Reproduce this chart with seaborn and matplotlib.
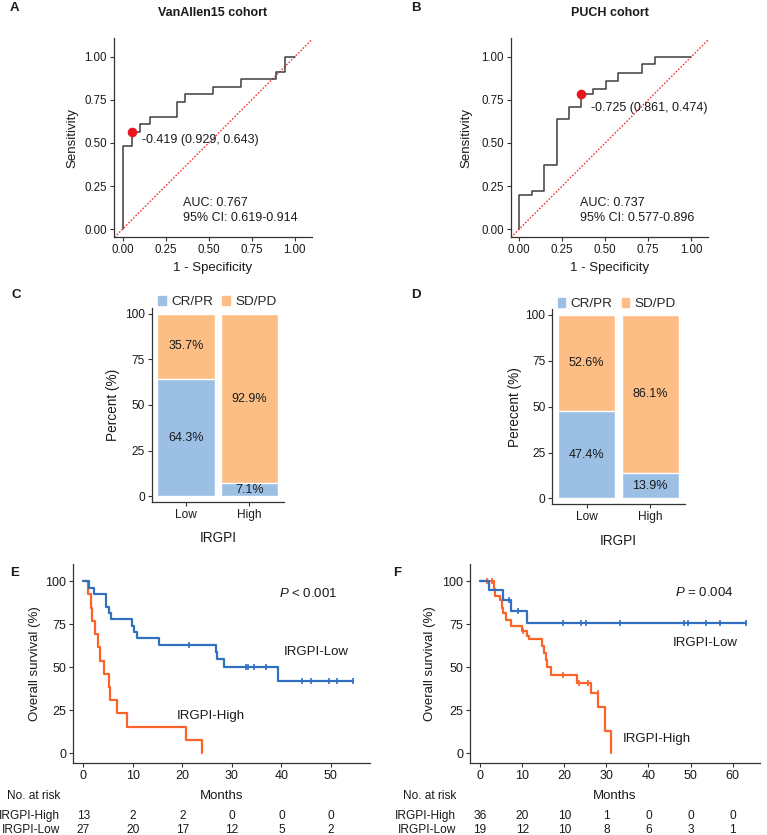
import numpy as np
import matplotlib
matplotlib.use("Agg")
import matplotlib.pyplot as plt
import seaborn as sns
from matplotlib.patches import Patch

# ---- ROC data ----
roc_a_fpr = [0, 0, 0.052, 0.10, 0.157, 0.314, 0.362, 0.527, 0.686, 0.895, 0.944, 1.0]
roc_a_tpr = [0, 0.484, 0.565, 0.61, 0.652, 0.739, 0.783, 0.826, 0.870, 0.913, 1.0, 1.0]
roc_a_cut = (0.052, 0.565)
roc_b_fpr = [0, 0, 0.074, 0.145, 0.217, 0.291, 0.36, 0.43, 0.504, 0.576, 0.717, 0.79, 1.0]
roc_b_tpr = [0, 0.2, 0.221, 0.372, 0.64, 0.711, 0.783, 0.812, 0.86, 0.909, 0.957, 1.0, 1.0]
roc_b_cut = (0.36, 0.783)

# ---- response bars ----
groups = ["Low", "High"]
c_crpr = [64.3, 7.1]
c_sdpd = [35.7, 92.9]
d_crpr = [47.4, 13.9]
d_sdpd = [52.6, 86.1]

# ---- Kaplan-Meier steps ----
e_low_t = [0, 1.2, 2.2, 4.7, 5.2, 5.7, 9.9, 10.3, 10.8, 15.4, 26.8, 27.1, 28.4, 39.4, 54.4]
e_low_s = [100, 96.3, 92.6, 85.2, 81.5, 77.8, 74.1, 70.4, 66.7, 63.0, 59.1, 54.8, 50.4, 42.2, 42.2]
e_low_cens = [21.3, 32.9, 33.3, 34.5, 36.9, 44.1, 45.9, 49.6, 51.3, 54.4]
e_high_t = [0, 1.0, 1.5, 1.7, 2.4, 2.9, 3.3, 4.2, 5.2, 5.4, 6.9, 8.9, 20.7, 24.0]
e_high_s = [100, 92.3, 84.6, 76.9, 69.2, 61.5, 53.8, 46.2, 38.5, 30.8, 23.1, 15.4, 7.7, 0]
e_high_cens = []

f_low_t = [0, 2.2, 5.4, 7.4, 11.2, 63.1]
f_low_s = [100, 94.7, 89.1, 82.4, 75.6, 75.6]
f_low_cens = [6.9, 8.9, 19.8, 24.0, 25.2, 33.3, 48.5, 49.5, 53.7, 57.0, 63.1]
f_high_t = [0, 3.2, 3.6, 4.8, 5.1, 5.5, 6.2, 7.4, 9.9, 11.1, 11.6, 14.6, 15.3, 15.6,
            15.8, 16.9, 23.0, 26.4, 28.1, 29.7, 31.1]
f_high_s = [100, 95.7, 91.5, 89.1, 84.7, 81.4, 77.5, 74.2, 71.1, 68.2, 66.5, 62.4, 58.1,
            54.3, 50.0, 45.5, 41.1, 35.3, 26.6, 13.2, 0]
f_high_cens = [1.7, 2.8, 10.3, 19.8, 23.5, 25.7, 27.9]

e_risk_times = [0, 10, 20, 30, 40, 50]
e_risk_high = [13, 2, 2, 0, 0, 0]
e_risk_low = [27, 20, 17, 12, 5, 2]
f_risk_times = [0, 10, 20, 30, 40, 50, 60]
f_risk_high = [36, 20, 10, 1, 0, 0, 0]
f_risk_low = [19, 12, 10, 8, 6, 3, 1]

BLUE_BAR, ORANGE_BAR = "#9BC0E4", "#FDBE85"
KM_BLUE, KM_ORANGE = "#3170C0", "#FA6428"
TXT = "#1a1a1a"

sns.set_style("ticks")
plt.rcParams["font.family"] = ["Liberation Sans", "DejaVu Sans"]
plt.rcParams["mathtext.fontset"] = "custom"
plt.rcParams["mathtext.it"] = "Liberation Sans:italic"
plt.rcParams["mathtext.rm"] = "Liberation Sans"

W, H = 767, 835
fig = plt.figure(figsize=(W / 100, H / 100), dpi=100)


def px_axes(x0, y0, x1, y1):
    return fig.add_axes([x0 / W, 1 - y1 / H, (x1 - x0) / W, (y1 - y0) / H])


def ftext(x, y, s, **kw):
    fig.text(x / W, 1 - y / H, s, color=TXT, **kw)


def style(ax, tsize=8):
    sns.despine(ax=ax)
    for sp in ["left", "bottom"]:
        ax.spines[sp].set_color("#333333")
        ax.spines[sp].set_linewidth(0.9)
    ax.tick_params(length=3, width=0.8, color="#333333", labelsize=tsize,
                   labelcolor=TXT, pad=2)


def labels(ax, xl, yl, xpos, ypos, size=9.5):
    ax.set_xlabel(xl, fontsize=size, color=TXT)
    ax.set_ylabel(yl, fontsize=size, color=TXT)
    ax.xaxis.label.set_va("center")
    ax.yaxis.label.set_va("center")
    ax.xaxis.set_label_coords(*xpos)
    ax.yaxis.set_label_coords(*ypos)


# ---------------- ROC panels ----------------
def draw_roc(ax, fpr, tpr, cut, cut_lab, lab_xy, auc, ci, ylab_x):
    ax.axline((0, 0), (1, 1), color="#F03A3A", ls=(0, (1.2, 1.2)), lw=1.0, zorder=1)
    sns.lineplot(x=fpr, y=tpr, drawstyle="steps-post", estimator=None, sort=False,
                 color="#3d3d3d", lw=1.1, ax=ax, zorder=2)
    ax.scatter([cut[0]], [cut[1]], s=48, color="#E8161F", zorder=4, linewidths=0)
    ax.text(lab_xy[0], lab_xy[1], cut_lab, fontsize=9, color=TXT, va="center")
    ax.text(auc[0], 0.153, f"AUC: {auc[1]}", fontsize=9, color=TXT, va="center")
    ax.text(auc[0], 0.062, f"95% CI: {ci}", fontsize=9, color=TXT, va="center")
    ax.set_xlim(-0.05, 1.1)
    ax.set_ylim(-0.048, 1.11)
    ticks = [0, 0.25, 0.5, 0.75, 1.0]
    ax.set_xticks(ticks, [f"{t:.2f}" for t in ticks])
    ax.set_yticks(ticks, [f"{t:.2f}" for t in ticks])
    style(ax, 8.3)
    labels(ax, "1 - Specificity", "Sensitivity", (0.5, -0.155), (ylab_x, 0.5))


ax_a = px_axes(114, 38, 311.7, 237.3)
draw_roc(ax_a, roc_a_fpr, roc_a_tpr, roc_a_cut, "-0.419 (0.929, 0.643)", (0.11, 0.517),
         (0.349, "0.767"), "0.619-0.914", -0.209)
ax_b = px_axes(510.7, 38, 708.3, 237.3)
draw_roc(ax_b, roc_b_fpr, roc_b_tpr, roc_b_cut, "-0.725 (0.861, 0.474)", (0.417, 0.705),
         (0.355, "0.737"), "0.577-0.896", -0.226)
ftext(213, 13, "VanAllen15 cohort", fontsize=9, fontweight="bold", ha="center", va="center")
ftext(610, 13, "PUCH cohort", fontsize=9, fontweight="bold", ha="center", va="center")


# ---------------- bar panels ----------------
def draw_bars(ax, crpr, sdpd, ylab, ylab_x, leg_xy):
    totals = [a + b for a, b in zip(crpr, sdpd)]
    sns.barplot(x=groups, y=totals, color=ORANGE_BAR, width=0.9, edgecolor="white",
                linewidth=1.0, saturation=1, ax=ax)
    sns.barplot(x=groups, y=crpr, color=BLUE_BAR, width=0.9, edgecolor="white",
                linewidth=1.0, saturation=1, ax=ax)
    for i, (a, b) in enumerate(zip(crpr, sdpd)):
        ax.text(i, a / 2, f"{a}%", ha="center", va="center", fontsize=9, color=TXT)
        ax.text(i, a + b / 2, f"{b}%", ha="center", va="center", fontsize=9, color=TXT)
    ax.set_xlim(-0.54, 1.55)
    ax.set_ylim(-3, 103)
    ax.set_yticks([0, 25, 50, 75, 100])
    style(ax, 8.6)
    labels(ax, "IRGPI", ylab, (0.5, -0.19), (ylab_x, 0.5), size=9.8)
    handles = [Patch(color=BLUE_BAR, label="CR/PR"), Patch(color=ORANGE_BAR, label="SD/PD")]
    ax.legend(handles=handles, loc="center", bbox_to_anchor=leg_xy, ncol=2, frameon=False,
              fontsize=9.7, handlelength=0.55, handleheight=0.55, handletextpad=0.4,
              columnspacing=0.7, borderpad=0, borderaxespad=0)


ax_c = px_axes(151.7, 308.3, 284.3, 501.7)
draw_bars(ax_c, c_crpr, c_sdpd, "Percent (%)", -0.292, (0.496, 1.031))
ax_d = px_axes(552.3, 309.3, 685, 504)
draw_bars(ax_d, d_crpr, d_sdpd, "Perecent (%)", -0.281, (0.488, 1.026))


# ---------------- KM panels ----------------
def step_value(times, surv, t):
    idx = np.searchsorted(times, t, side="right") - 1
    return [surv[i] for i in idx]


def draw_km(ax, curves, risk_t, risk_high, risk_low, xlim, texts, ylab_x, lab_right):
    for times, surv, cens, col in curves:
        sns.lineplot(x=times, y=surv, drawstyle="steps-post", estimator=None, sort=False,
                     color=col, lw=1.6, ax=ax)
        if cens:
            ax.plot(cens, step_value(times, surv, cens), ls="none", marker="|", ms=5,
                    mew=1.2, color=col)
    ax.set_xlim(*xlim)
    ax.set_ylim(-5.5, 110)
    ax.set_xticks(risk_t)
    ax.set_yticks([0, 25, 50, 75, 100])
    style(ax, 9)
    labels(ax, "Months", "Overall survival (%)", (0.5, -0.168), (ylab_x, 0.5), size=9.5)
    for x, y, s in texts:
        ax.text(x, y, s, fontsize=9.5, color=TXT, va="center")
    trans = ax.get_xaxis_transform()
    for t, h, l in zip(risk_t, risk_high, risk_low):
        ax.text(t, -0.268, str(h), transform=trans, ha="center", va="center",
                fontsize=8.6, color=TXT)
        ax.text(t, -0.34, str(l), transform=trans, ha="center", va="center",
                fontsize=8.6, color=TXT)
    for y, s in [(-0.168, "No. at risk"), (-0.268, "IRGPI-High"), (-0.34, "IRGPI-Low")]:
        ax.text(lab_right, y, s, transform=ax.transAxes, ha="right", va="center",
                fontsize=8.6, color=TXT)


ax_e = px_axes(73.3, 564, 370, 762.7)
draw_km(ax_e, [(e_high_t, e_high_s, e_high_cens, KM_ORANGE),
               (e_low_t, e_low_s, e_low_cens, KM_BLUE)],
        e_risk_times, e_risk_high, e_risk_low, (-2.0, 57.9),
        [(39.6, 92.9, r"$\mathit{P}$ < 0.001"), (40.4, 59.0, "IRGPI-Low"),
         (18.9, 21.6, "IRGPI-High")], -0.129, -0.045)
ax_f = px_axes(470, 564, 760, 762.7)
draw_km(ax_f, [(f_high_t, f_high_s, f_high_cens, KM_ORANGE),
               (f_low_t, f_low_s, f_low_cens, KM_BLUE)],
        f_risk_times, f_risk_high, f_risk_low, (-2.4, 66.5),
        [(46.3, 93.2, r"$\mathit{P}$ = 0.004"), (45.8, 63.8, "IRGPI-Low"),
         (33.9, 8.1, "IRGPI-High")], -0.138, -0.048)

# panel letters
for x, y, s in [(10, 8, "A"), (411, 8, "B"), (11, 295, "C"), (411, 295, "D"),
                (10, 573, "E"), (393, 573, "F")]:
    ftext(x, y, s, fontsize=9.5, fontweight="bold", ha="left", va="center")

fig.savefig("out.png", dpi=100)
